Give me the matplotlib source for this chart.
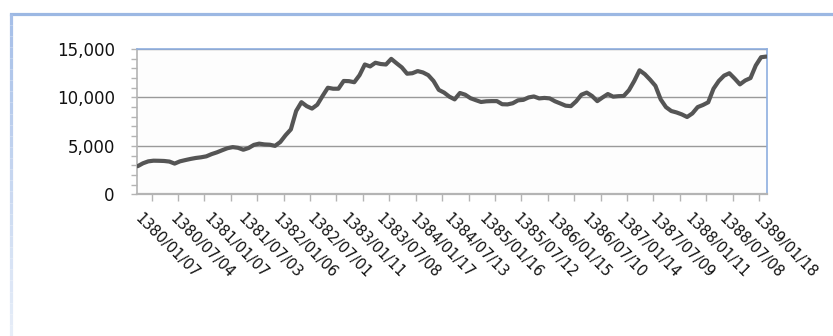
# ============================================================
# Weekly index chart, 1380/01/07 - 1389/01/18
# Recreates an Excel-style line chart with matplotlib.
# ============================================================

import numpy as np
import matplotlib
matplotlib.use("Agg")
import matplotlib.pyplot as plt
from matplotlib.lines import Line2D
from matplotlib.collections import LineCollection
from matplotlib.ticker import FixedLocator, MultipleLocator, FuncFormatter


# ============================================================
# 1. Data (one value every 4 weeks)
# ============================================================

TOTAL_WEEKS = 477
SAMPLE_STEP = 4
LABEL_STEP = 26

index_values = [
    2900, 3200, 3400, 3470, 3460, 3440, 3380, 3170, 3400, 3530,
    3650, 3750, 3820, 3920, 4150, 4330, 4550, 4760, 4870, 4800,
    4600, 4780, 5100, 5230, 5150, 5120, 5000, 5400, 6100, 6700,
    8600, 9510, 9100, 8850, 9250, 10150, 11000, 10900, 10900, 11700,
    11680, 11570, 12300, 13400, 13200, 13580, 13450, 13400, 13980, 13530,
    13100, 12450, 12500, 12720, 12580, 12300, 11700, 10780, 10500, 10080,
    9800, 10460, 10280, 9920, 9720, 9530, 9600, 9620, 9620, 9300,
    9280, 9400, 9700, 9750, 10000, 10100, 9900, 9950, 9900, 9600,
    9380, 9150, 9100, 9600, 10280, 10500, 10150, 9620, 10000, 10350,
    10080, 10130, 10150, 10750, 11700, 12800, 12400, 11830, 11200, 9800,
    9000, 8600, 8450, 8250, 7980, 8350, 9000, 9220, 9500, 10900,
    11700, 12250, 12500, 11950, 11350, 11750, 12000, 13300, 14150, 14220,
]

date_labels = [
    "1380/01/07", "1380/07/04", "1381/01/07", "1381/07/03",
    "1382/01/06", "1382/07/01", "1383/01/11", "1383/07/08",
    "1384/01/17", "1384/07/13", "1385/01/16", "1385/07/12",
    "1386/01/15", "1386/07/10", "1387/01/14", "1387/07/09",
    "1388/01/11", "1388/07/08", "1389/01/18",
]

y_major = [0, 5000, 10000, 15000]


# ============================================================
# 2. Colours
# ============================================================

LINE_COLOR = "#555555"
GRID_COLOR = "#9a9a9a"
AXIS_COLOR = "#b4b4b4"
BLUE_EDGE = "#8eaedf"
FRAME_TOP = "#9cb8e3"
TEXT_COLOR = "#111111"


# ============================================================
# 3. Chart
# ============================================================

def draw_frame(fig):
    """
    Light blue Excel chart border (top and faded left edge).
    """

    w, h = fig.get_size_inches() * fig.dpi
    top_y = 1 - 13.5 / h
    left_x = 10.5 / w

    fig.add_artist(Line2D([left_x, 1.0], [top_y, top_y],
                          transform=fig.transFigure,
                          color=FRAME_TOP, linewidth=2.3))

    ys = np.linspace(top_y, 0.0, 30)
    segments = [[(left_x, ys[i]), (left_x, ys[i + 1])] for i in range(len(ys) - 1)]
    start = np.array(matplotlib.colors.to_rgb("#a6bfe8"))
    end = np.array(matplotlib.colors.to_rgb("#e6edf8"))
    colors = [start + (end - start) * t for t in np.linspace(0, 1, len(segments))]
    fig.add_artist(LineCollection(segments, colors=colors, linewidths=2.3,
                                  transform=fig.transFigure))


def draw_chart():
    fig = plt.figure(figsize=(8.33, 3.36), dpi=100)
    fig.patch.set_facecolor("white")

    draw_frame(fig)

    ax = fig.add_axes([137 / 833, 1 - 194.3 / 336, 630 / 833, 145.3 / 336])
    ax.set_facecolor("#fdfdfd")

    x = np.arange(len(index_values)) * SAMPLE_STEP
    ax.plot(x, index_values, color=LINE_COLOR, linewidth=3.0,
            solid_joinstyle="round", solid_capstyle="round", zorder=3)

    ax.set_xlim(-0.5, TOTAL_WEEKS - 0.5)
    ax.set_ylim(0, 15000)

    # y axis
    ax.yaxis.set_major_locator(FixedLocator(y_major))
    ax.yaxis.set_minor_locator(MultipleLocator(1000))
    ax.yaxis.set_major_formatter(FuncFormatter(lambda v, p: f"{v:,.0f}"))
    ax.tick_params(axis="y", which="both", direction="out", length=4,
                   width=1, color=AXIS_COLOR, pad=12,
                   labelsize=12, labelcolor=TEXT_COLOR)
    ax.grid(axis="y", which="major", color=GRID_COLOR, linewidth=1)
    ax.set_axisbelow(True)

    # x axis: labels every 26 weeks, tick marks every 20 weeks
    label_pos = np.arange(len(date_labels)) * LABEL_STEP
    ax.xaxis.set_major_locator(FixedLocator(label_pos))
    ax.set_xticklabels(date_labels)
    ax.xaxis.set_minor_locator(FixedLocator(np.arange(10.5, TOTAL_WEEKS, 20)))
    ax.tick_params(axis="x", which="major", length=0, pad=16,
                   labelsize=10.5, labelcolor=TEXT_COLOR)
    ax.tick_params(axis="x", which="minor", direction="out", length=5,
                   width=1, color=AXIS_COLOR)
    plt.setp(ax.get_xticklabels(), rotation=-45, ha="left", va="center",
             rotation_mode="anchor")

    # spines
    ax.spines["bottom"].set_color(AXIS_COLOR)
    ax.spines["bottom"].set_linewidth(1.6)
    ax.spines["left"].set_color(AXIS_COLOR)
    ax.spines["left"].set_linewidth(1.2)
    ax.spines["top"].set_color(BLUE_EDGE)
    ax.spines["top"].set_linewidth(1.2)
    ax.spines["right"].set_color(BLUE_EDGE)
    ax.spines["right"].set_linewidth(1.2)

    fig.savefig("out.png", dpi=100)
    plt.close(fig)


# ============================================================
# 4. Main execution
# ============================================================

def main() -> None:
    draw_chart()


if __name__ == "__main__":
    main()
